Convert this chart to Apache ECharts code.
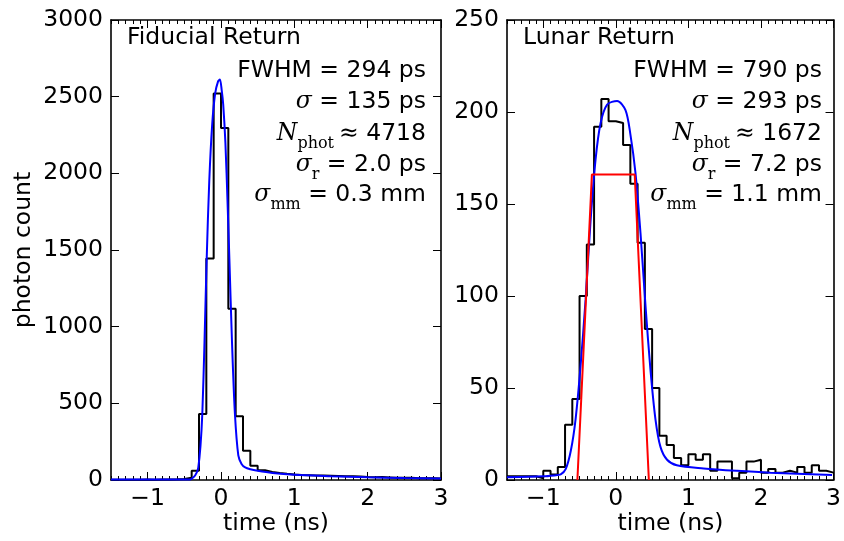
<!DOCTYPE html>
<html><head><meta charset="utf-8">
<script src="https://cdn.jsdelivr.net/npm/echarts@6/dist/echarts.min.js"></script>
<style>html,body{margin:0;padding:0;background:#fff}#c{width:844px;height:541px}</style>
</head><body><div id="c"></div>
<script>
// ---- data ----
const binStart = -1.5;
const binWidth = 0.1;
const xTicks = [-1, 0, 1, 2, 3];
const fiducialCounts = [2,1,2,2,3,2,3,4,5,7,14,60,430,1444,2520,2296,1117,415,190,93,63,52,45,40,36,33,31,29,30,28,26,24,25,23,20,18,19,17,15,15,14,12,12,11,10];
const lunarCounts = [2,2,2,2,1,5,3,7,30,44,100,128,192,207,195,194,182,161,129,82,50,24,19,12,8,14,11,14,5,10,10,1,4,10,11,4,6,4,5,4,7,4,8,5,4];
const fiducialFit = [[-1.5,3],[-0.6,3],[-0.42,4],[-0.37,20],[-0.33,50],[-0.31,80],[-0.28,220],[-0.255,430],[-0.225,900],[-0.195,1444],[-0.16,1950],[-0.12,2320],[-0.08,2520],[-0.04,2600],[-0.015,2612],[0.01,2540],[0.03,2450],[0.06,2200],[0.09,1800],[0.114,1444],[0.15,900],[0.19,430],[0.236,160],[0.28,105],[0.33,82],[0.4,70],[0.5,60],[0.7,46],[1.0,34],[1.5,25],[2.0,18],[2.5,13],[3.0,10]];
const lunarFit = [[-1.5,1.5],[-1.0,2],[-0.85,2.5],[-0.76,3],[-0.69,6],[-0.62,16],[-0.555,33],[-0.486,62],[-0.417,98],[-0.348,141],[-0.28,174],[-0.21,194],[-0.12,204],[0.018,206],[0.133,201],[0.2,188],[0.27,167],[0.34,134],[0.41,94],[0.477,60],[0.546,33],[0.615,18],[0.706,11],[0.84,8],[1.21,6.3],[1.67,5],[2.13,4],[2.98,2.7]];
const lunarBox = [[-0.53,0],[-0.33,166],[0.26,166],[0.455,0]];
const titles = ['Fiducial Return', 'Lunar Return'];
const fwhm = ['294', '790'];
const sigma = ['135', '293'];
const nphot = ['4718', '1672'];
const sigmaR = ['2.0', '7.2'];
const sigmaMm = ['0.3', '1.1'];
const yMax = [3000, 250];
const yStep = [500, 50];
const xLabel = 'time (ns)';
const yLabel = 'photon count';

// ---- build ----
function stepData(counts) {
  const d = counts.map((v, i) => [binStart + i * binWidth, v]);
  d.push([binStart + counts.length * binWidth, counts[counts.length - 1]]);
  return d;
}
const SANS = "'DejaVu Sans'";
const SERIF = "'DejaVu Serif'";
const FS = 23.5;
const grids = [
  {left: 111, top: 20, width: 330, height: 460},
  {left: 507, top: 20, width: 327, height: 460}
];
const lineBlack = {color: '#000', width: 1.6};
const tickStyle = {color: '#000', width: 1};
const fmtX = v => (v < 0 ? '\u2212' + Math.abs(v) : String(v));
const fmtY = v => String(v);
const xAxes = [], yAxes = [];
grids.forEach((g, gi) => {
  ['bottom', 'top'].forEach(pos => {
    xAxes.push({gridIndex: gi, type: 'value', min: -1.5, max: 3, position: pos,
      axisLine: {show: true, onZero: false, lineStyle: lineBlack},
      axisTick: {show: true, inside: true, length: 8, customValues: xTicks, lineStyle: tickStyle},
      axisLabel: {show: pos === 'bottom', customValues: xTicks, formatter: fmtX, margin: 7, color: '#000', fontSize: FS, fontFamily: SANS},
      splitLine: {show: false}});
    xAxes.push({gridIndex: gi, type: 'value', min: -1.5, max: 3, interval: 0.1, position: pos,
      axisLine: {show: false, onZero: false},
      axisTick: {show: true, inside: true, length: 4, lineStyle: tickStyle},
      axisLabel: {show: false}, splitLine: {show: false}});
  });
  ['left', 'right'].forEach(pos => {
    yAxes.push({gridIndex: gi, type: 'value', min: 0, max: yMax[gi], interval: yStep[gi], position: pos,
      axisLine: {show: true, onZero: false, lineStyle: lineBlack},
      axisTick: {show: true, inside: true, length: 8, lineStyle: tickStyle},
      axisLabel: {show: pos === 'left', formatter: fmtY, margin: 8, color: '#000', fontSize: FS, fontFamily: SANS},
      splitLine: {show: false}});
  });
});

const series = [
  {type: 'line', xAxisIndex: 0, yAxisIndex: 0, step: 'end', data: stepData(fiducialCounts), showSymbol: false, lineStyle: {color: '#000', width: 2}, z: 2},
  {type: 'line', xAxisIndex: 0, yAxisIndex: 0, smooth: 0.3, data: fiducialFit, showSymbol: false, lineStyle: {color: '#0000ff', width: 2}, z: 3},
  {type: 'line', xAxisIndex: 4, yAxisIndex: 2, step: 'end', data: stepData(lunarCounts), showSymbol: false, lineStyle: {color: '#000', width: 2}, z: 2},
  {type: 'line', xAxisIndex: 4, yAxisIndex: 2, smooth: 0.3, data: lunarFit, showSymbol: false, lineStyle: {color: '#0000ff', width: 2}, z: 3},
  {type: 'line', xAxisIndex: 4, yAxisIndex: 2, data: lunarBox, showSymbol: false, lineStyle: {color: '#ff0000', width: 2}, z: 4}
];

const rich = {
  m: {fontFamily: SERIF, fontStyle: 'italic', fontSize: FS, lineHeight: 28},
  r: {fontFamily: SERIF, fontSize: FS, lineHeight: 28, padding: [0, 0, 0, 5]},
  s: {fontFamily: SERIF, fontSize: 16, lineHeight: 16, padding: [16, 0, 0, 0], verticalAlign: 'top'}
};
const graphics = [];
const statRight = [426, 822];
const titleLeft = [127, 523];
const lineY = [70.5, 101.7, 133.7, 164.7, 195.3];
[0, 1].forEach(i => {
  graphics.push({type: 'text', x: titleLeft[i], y: 38, style: {text: titles[i], font: FS + 'px ' + SANS, fill: '#000', align: 'left', verticalAlign: 'middle'}});
  const lines = [
    'FWHM = ' + fwhm[i] + ' ps',
    '{m|\u03c3} = ' + sigma[i] + ' ps',
    '{m|N}{s|phot}{r|\u2248} ' + nphot[i],
    '{m|\u03c3}{s|r} = ' + sigmaR[i] + ' ps',
    '{m|\u03c3}{s|mm} = ' + sigmaMm[i] + ' mm'
  ];
  lines.forEach((t, k) => {
    graphics.push({type: 'text', x: statRight[i], y: lineY[k], style: {text: t, fontFamily: SANS, fontSize: FS, lineHeight: 28, fill: '#000', align: 'right', verticalAlign: 'middle', rich: rich}});
  });
  graphics.push({type: 'text', x: grids[i].left + grids[i].width / 2, y: 524, style: {text: xLabel, font: FS + 'px ' + SANS, fill: '#000', align: 'center', verticalAlign: 'middle'}});
});
graphics.push({type: 'text', x: 24, y: 250, rotation: Math.PI / 2, style: {text: yLabel, font: FS + 'px ' + SANS, fill: '#000', align: 'center', verticalAlign: 'middle'}});

const chart = echarts.init(document.getElementById('c'), null, {renderer: 'canvas'});
chart.setOption({
  animation: false,
  backgroundColor: '#fff',
  grid: grids,
  xAxis: xAxes,
  yAxis: yAxes,
  series: series,
  graphic: graphics
});
</script>
</body></html>
